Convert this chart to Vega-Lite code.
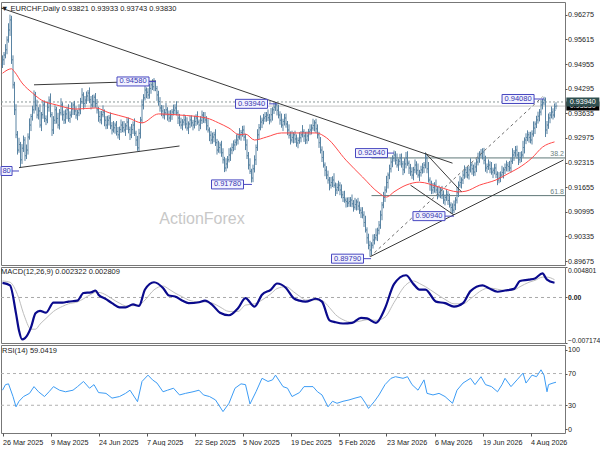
{
  "$schema": "https://vega.github.io/schema/vega-lite/v6.json",
  "background": "white",
  "padding": {"left": -3, "top": 1, "right": 0, "bottom": 0},
  "spacing": 2,
  "bounds": "flush",
  "datasets": {
    "bars": [
      {"i":0,"o":0.9495,"h":0.9519,"l":0.9485,"c":0.9507},
      {"i":1,"o":0.9507,"h":0.9528,"l":0.9493,"c":0.9520},
      {"i":2,"o":0.9520,"h":0.9549,"l":0.9511,"c":0.9534},
      {"i":3,"o":0.9534,"h":0.9570,"l":0.9522,"c":0.9560},
      {"i":4,"o":0.9560,"h":0.9605,"l":0.9553,"c":0.9587},
      {"i":5,"o":0.9587,"h":0.9628,"l":0.9571,"c":0.9614},
      {"i":6,"o":0.9614,"h":0.9625,"l":0.9496,"c":0.9507},
      {"i":7,"o":0.9507,"h":0.9519,"l":0.9430,"c":0.9440},
      {"i":8,"o":0.9440,"h":0.9448,"l":0.9359,"c":0.9373},
      {"i":9,"o":0.9373,"h":0.9388,"l":0.9297,"c":0.9306},
      {"i":10,"o":0.9306,"h":0.9316,"l":0.9253,"c":0.9265},
      {"i":11,"o":0.9265,"h":0.9298,"l":0.9258,"c":0.9280},
      {"i":12,"o":0.9280,"h":0.9287,"l":0.9218,"c":0.9239},
      {"i":13,"o":0.9239,"h":0.9281,"l":0.9228,"c":0.9270},
      {"i":14,"o":0.9270,"h":0.9304,"l":0.9260,"c":0.9292},
      {"i":15,"o":0.9292,"h":0.9300,"l":0.9236,"c":0.9250},
      {"i":16,"o":0.9250,"h":0.9280,"l":0.9241,"c":0.9265},
      {"i":17,"o":0.9265,"h":0.9310,"l":0.9253,"c":0.9300},
      {"i":18,"o":0.9300,"h":0.9350,"l":0.9293,"c":0.9332},
      {"i":19,"o":0.9332,"h":0.9362,"l":0.9316,"c":0.9355},
      {"i":20,"o":0.9355,"h":0.9384,"l":0.9344,"c":0.9373},
      {"i":21,"o":0.9373,"h":0.9425,"l":0.9363,"c":0.9413},
      {"i":22,"o":0.9413,"h":0.9421,"l":0.9371,"c":0.9385},
      {"i":23,"o":0.9385,"h":0.9400,"l":0.9350,"c":0.9359},
      {"i":24,"o":0.9359,"h":0.9380,"l":0.9347,"c":0.9370},
      {"i":25,"o":0.9370,"h":0.9388,"l":0.9325,"c":0.9332},
      {"i":26,"o":0.9332,"h":0.9367,"l":0.9316,"c":0.9360},
      {"i":27,"o":0.9360,"h":0.9397,"l":0.9349,"c":0.9386},
      {"i":28,"o":0.9386,"h":0.9398,"l":0.9340,"c":0.9350},
      {"i":29,"o":0.9350,"h":0.9358,"l":0.9332,"c":0.9346},
      {"i":30,"o":0.9346,"h":0.9395,"l":0.9337,"c":0.9380},
      {"i":31,"o":0.9380,"h":0.9409,"l":0.9368,"c":0.9399},
      {"i":32,"o":0.9399,"h":0.9417,"l":0.9353,"c":0.9360},
      {"i":33,"o":0.9360,"h":0.9367,"l":0.9303,"c":0.9319},
      {"i":34,"o":0.9319,"h":0.9356,"l":0.9308,"c":0.9345},
      {"i":35,"o":0.9345,"h":0.9385,"l":0.9335,"c":0.9373},
      {"i":36,"o":0.9373,"h":0.9381,"l":0.9336,"c":0.9350},
      {"i":37,"o":0.9350,"h":0.9365,"l":0.9323,"c":0.9332},
      {"i":38,"o":0.9332,"h":0.9375,"l":0.9320,"c":0.9365},
      {"i":39,"o":0.9365,"h":0.9404,"l":0.9358,"c":0.9386},
      {"i":40,"o":0.9386,"h":0.9393,"l":0.9344,"c":0.9360},
      {"i":41,"o":0.9360,"h":0.9371,"l":0.9335,"c":0.9346},
      {"i":42,"o":0.9346,"h":0.9374,"l":0.9336,"c":0.9362},
      {"i":43,"o":0.9362,"h":0.9381,"l":0.9348,"c":0.9373},
      {"i":44,"o":0.9373,"h":0.9388,"l":0.9341,"c":0.9350},
      {"i":45,"o":0.9350,"h":0.9369,"l":0.9338,"c":0.9359},
      {"i":46,"o":0.9359,"h":0.9393,"l":0.9352,"c":0.9375},
      {"i":47,"o":0.9375,"h":0.9393,"l":0.9359,"c":0.9386},
      {"i":48,"o":0.9386,"h":0.9397,"l":0.9359,"c":0.9370},
      {"i":49,"o":0.9370,"h":0.9382,"l":0.9349,"c":0.9359},
      {"i":50,"o":0.9359,"h":0.9373,"l":0.9345,"c":0.9365},
      {"i":51,"o":0.9365,"h":0.9388,"l":0.9356,"c":0.9373},
      {"i":52,"o":0.9373,"h":0.9405,"l":0.9361,"c":0.9395},
      {"i":53,"o":0.9395,"h":0.9431,"l":0.9388,"c":0.9413},
      {"i":54,"o":0.9413,"h":0.9420,"l":0.9374,"c":0.9390},
      {"i":55,"o":0.9390,"h":0.9410,"l":0.9379,"c":0.9399},
      {"i":56,"o":0.9399,"h":0.9422,"l":0.9389,"c":0.9410},
      {"i":57,"o":0.9410,"h":0.9426,"l":0.9396,"c":0.9418},
      {"i":58,"o":0.9418,"h":0.9433,"l":0.9391,"c":0.9400},
      {"i":59,"o":0.9400,"h":0.9410,"l":0.9374,"c":0.9386},
      {"i":60,"o":0.9386,"h":0.9413,"l":0.9379,"c":0.9395},
      {"i":61,"o":0.9395,"h":0.9414,"l":0.9379,"c":0.9407},
      {"i":62,"o":0.9407,"h":0.9418,"l":0.9379,"c":0.9390},
      {"i":63,"o":0.9390,"h":0.9402,"l":0.9363,"c":0.9373},
      {"i":64,"o":0.9373,"h":0.9381,"l":0.9341,"c":0.9355},
      {"i":65,"o":0.9355,"h":0.9370,"l":0.9337,"c":0.9346},
      {"i":66,"o":0.9346,"h":0.9370,"l":0.9334,"c":0.9360},
      {"i":67,"o":0.9360,"h":0.9385,"l":0.9353,"c":0.9367},
      {"i":68,"o":0.9367,"h":0.9374,"l":0.9329,"c":0.9345},
      {"i":69,"o":0.9345,"h":0.9356,"l":0.9321,"c":0.9332},
      {"i":70,"o":0.9332,"h":0.9357,"l":0.9322,"c":0.9345},
      {"i":71,"o":0.9345,"h":0.9359,"l":0.9331,"c":0.9351},
      {"i":72,"o":0.9351,"h":0.9366,"l":0.9321,"c":0.9330},
      {"i":73,"o":0.9330,"h":0.9340,"l":0.9307,"c":0.9319},
      {"i":74,"o":0.9319,"h":0.9343,"l":0.9312,"c":0.9325},
      {"i":75,"o":0.9325,"h":0.9339,"l":0.9309,"c":0.9332},
      {"i":76,"o":0.9332,"h":0.9343,"l":0.9304,"c":0.9315},
      {"i":77,"o":0.9315,"h":0.9327,"l":0.9296,"c":0.9306},
      {"i":78,"o":0.9306,"h":0.9328,"l":0.9292,"c":0.9320},
      {"i":79,"o":0.9320,"h":0.9347,"l":0.9311,"c":0.9332},
      {"i":80,"o":0.9332,"h":0.9342,"l":0.9313,"c":0.9325},
      {"i":81,"o":0.9325,"h":0.9343,"l":0.9312,"c":0.9319},
      {"i":82,"o":0.9319,"h":0.9337,"l":0.9303,"c":0.9330},
      {"i":83,"o":0.9330,"h":0.9351,"l":0.9319,"c":0.9340},
      {"i":84,"o":0.9340,"h":0.9352,"l":0.9310,"c":0.9320},
      {"i":85,"o":0.9320,"h":0.9328,"l":0.9292,"c":0.9306},
      {"i":86,"o":0.9306,"h":0.9335,"l":0.9297,"c":0.9320},
      {"i":87,"o":0.9320,"h":0.9342,"l":0.9308,"c":0.9332},
      {"i":88,"o":0.9332,"h":0.9350,"l":0.9303,"c":0.9310},
      {"i":89,"o":0.9310,"h":0.9317,"l":0.9276,"c":0.9292},
      {"i":90,"o":0.9292,"h":0.9303,"l":0.9263,"c":0.9271},
      {"i":91,"o":0.9271,"h":0.9322,"l":0.9261,"c":0.9310},
      {"i":92,"o":0.9310,"h":0.9354,"l":0.9296,"c":0.9346},
      {"i":93,"o":0.9346,"h":0.9401,"l":0.9337,"c":0.9386},
      {"i":94,"o":0.9386,"h":0.9415,"l":0.9374,"c":0.9405},
      {"i":95,"o":0.9405,"h":0.9444,"l":0.9398,"c":0.9426},
      {"i":96,"o":0.9426,"h":0.9433,"l":0.9404,"c":0.9420},
      {"i":97,"o":0.9420,"h":0.9431,"l":0.9402,"c":0.9413},
      {"i":98,"o":0.9413,"h":0.9442,"l":0.9403,"c":0.9430},
      {"i":99,"o":0.9430,"h":0.9448,"l":0.9416,"c":0.9440},
      {"i":100,"o":0.9440,"h":0.9455,"l":0.9426,"c":0.9435},
      {"i":101,"o":0.9435,"h":0.9458,"l":0.9423,"c":0.9448},
      {"i":102,"o":0.9448,"h":0.9452,"l":0.9423,"c":0.9430},
      {"i":103,"o":0.9430,"h":0.9437,"l":0.9397,"c":0.9413},
      {"i":104,"o":0.9413,"h":0.9424,"l":0.9384,"c":0.9395},
      {"i":105,"o":0.9395,"h":0.9407,"l":0.9368,"c":0.9378},
      {"i":106,"o":0.9378,"h":0.9386,"l":0.9356,"c":0.9370},
      {"i":107,"o":0.9370,"h":0.9385,"l":0.9350,"c":0.9359},
      {"i":108,"o":0.9359,"h":0.9375,"l":0.9347,"c":0.9365},
      {"i":109,"o":0.9365,"h":0.9391,"l":0.9358,"c":0.9373},
      {"i":110,"o":0.9373,"h":0.9380,"l":0.9344,"c":0.9360},
      {"i":111,"o":0.9360,"h":0.9371,"l":0.9340,"c":0.9351},
      {"i":112,"o":0.9351,"h":0.9372,"l":0.9341,"c":0.9360},
      {"i":113,"o":0.9360,"h":0.9375,"l":0.9346,"c":0.9367},
      {"i":114,"o":0.9367,"h":0.9387,"l":0.9358,"c":0.9372},
      {"i":115,"o":0.9372,"h":0.9388,"l":0.9360,"c":0.9378},
      {"i":116,"o":0.9378,"h":0.9396,"l":0.9358,"c":0.9365},
      {"i":117,"o":0.9365,"h":0.9372,"l":0.9335,"c":0.9351},
      {"i":118,"o":0.9351,"h":0.9362,"l":0.9329,"c":0.9340},
      {"i":119,"o":0.9340,"h":0.9352,"l":0.9322,"c":0.9332},
      {"i":120,"o":0.9332,"h":0.9348,"l":0.9318,"c":0.9340},
      {"i":121,"o":0.9340,"h":0.9361,"l":0.9331,"c":0.9346},
      {"i":122,"o":0.9346,"h":0.9356,"l":0.9323,"c":0.9335},
      {"i":123,"o":0.9335,"h":0.9353,"l":0.9317,"c":0.9324},
      {"i":124,"o":0.9324,"h":0.9342,"l":0.9308,"c":0.9335},
      {"i":125,"o":0.9335,"h":0.9357,"l":0.9324,"c":0.9346},
      {"i":126,"o":0.9346,"h":0.9358,"l":0.9328,"c":0.9338},
      {"i":127,"o":0.9338,"h":0.9346,"l":0.9318,"c":0.9332},
      {"i":128,"o":0.9332,"h":0.9357,"l":0.9323,"c":0.9342},
      {"i":129,"o":0.9342,"h":0.9361,"l":0.9330,"c":0.9351},
      {"i":130,"o":0.9351,"h":0.9369,"l":0.9333,"c":0.9340},
      {"i":131,"o":0.9340,"h":0.9347,"l":0.9316,"c":0.9332},
      {"i":132,"o":0.9332,"h":0.9356,"l":0.9321,"c":0.9345},
      {"i":133,"o":0.9345,"h":0.9371,"l":0.9335,"c":0.9359},
      {"i":134,"o":0.9359,"h":0.9367,"l":0.9338,"c":0.9352},
      {"i":135,"o":0.9352,"h":0.9367,"l":0.9337,"c":0.9346},
      {"i":136,"o":0.9346,"h":0.9356,"l":0.9318,"c":0.9330},
      {"i":137,"o":0.9330,"h":0.9348,"l":0.9312,"c":0.9319},
      {"i":138,"o":0.9319,"h":0.9326,"l":0.9289,"c":0.9305},
      {"i":139,"o":0.9305,"h":0.9316,"l":0.9281,"c":0.9292},
      {"i":140,"o":0.9292,"h":0.9312,"l":0.9282,"c":0.9300},
      {"i":141,"o":0.9300,"h":0.9314,"l":0.9286,"c":0.9306},
      {"i":142,"o":0.9306,"h":0.9321,"l":0.9276,"c":0.9285},
      {"i":143,"o":0.9285,"h":0.9295,"l":0.9253,"c":0.9265},
      {"i":144,"o":0.9265,"h":0.9290,"l":0.9258,"c":0.9272},
      {"i":145,"o":0.9272,"h":0.9286,"l":0.9256,"c":0.9279},
      {"i":146,"o":0.9279,"h":0.9290,"l":0.9247,"c":0.9258},
      {"i":147,"o":0.9258,"h":0.9270,"l":0.9229,"c":0.9239},
      {"i":148,"o":0.9239,"h":0.9247,"l":0.9206,"c":0.9217},
      {"i":149,"o":0.9217,"h":0.9243,"l":0.9208,"c":0.9228},
      {"i":150,"o":0.9228,"h":0.9249,"l":0.9216,"c":0.9239},
      {"i":151,"o":0.9239,"h":0.9270,"l":0.9232,"c":0.9252},
      {"i":152,"o":0.9252,"h":0.9272,"l":0.9236,"c":0.9265},
      {"i":153,"o":0.9265,"h":0.9283,"l":0.9254,"c":0.9272},
      {"i":154,"o":0.9272,"h":0.9291,"l":0.9262,"c":0.9279},
      {"i":155,"o":0.9279,"h":0.9294,"l":0.9265,"c":0.9286},
      {"i":156,"o":0.9286,"h":0.9307,"l":0.9277,"c":0.9292},
      {"i":157,"o":0.9292,"h":0.9310,"l":0.9280,"c":0.9300},
      {"i":158,"o":0.9300,"h":0.9324,"l":0.9293,"c":0.9306},
      {"i":159,"o":0.9306,"h":0.9319,"l":0.9290,"c":0.9312},
      {"i":160,"o":0.9312,"h":0.9330,"l":0.9301,"c":0.9319},
      {"i":161,"o":0.9319,"h":0.9331,"l":0.9290,"c":0.9300},
      {"i":162,"o":0.9300,"h":0.9308,"l":0.9265,"c":0.9279},
      {"i":163,"o":0.9279,"h":0.9294,"l":0.9241,"c":0.9250},
      {"i":164,"o":0.9250,"h":0.9260,"l":0.9213,"c":0.9225},
      {"i":165,"o":0.9225,"h":0.9243,"l":0.9201,"c":0.9208},
      {"i":166,"o":0.9208,"h":0.9215,"l":0.9178,"c":0.9190},
      {"i":167,"o":0.9190,"h":0.9226,"l":0.9179,"c":0.9215},
      {"i":168,"o":0.9215,"h":0.9251,"l":0.9205,"c":0.9239},
      {"i":169,"o":0.9239,"h":0.9280,"l":0.9225,"c":0.9272},
      {"i":170,"o":0.9272,"h":0.9321,"l":0.9263,"c":0.9306},
      {"i":171,"o":0.9306,"h":0.9335,"l":0.9294,"c":0.9325},
      {"i":172,"o":0.9325,"h":0.9358,"l":0.9318,"c":0.9340},
      {"i":173,"o":0.9340,"h":0.9352,"l":0.9324,"c":0.9345},
      {"i":174,"o":0.9345,"h":0.9362,"l":0.9334,"c":0.9351},
      {"i":175,"o":0.9351,"h":0.9367,"l":0.9341,"c":0.9355},
      {"i":176,"o":0.9355,"h":0.9367,"l":0.9341,"c":0.9359},
      {"i":177,"o":0.9359,"h":0.9374,"l":0.9343,"c":0.9352},
      {"i":178,"o":0.9352,"h":0.9362,"l":0.9334,"c":0.9346},
      {"i":179,"o":0.9346,"h":0.9378,"l":0.9339,"c":0.9360},
      {"i":180,"o":0.9360,"h":0.9380,"l":0.9344,"c":0.9373},
      {"i":181,"o":0.9373,"h":0.9391,"l":0.9362,"c":0.9380},
      {"i":182,"o":0.9380,"h":0.9394,"l":0.9370,"c":0.9386},
      {"i":183,"o":0.9386,"h":0.9392,"l":0.9358,"c":0.9372},
      {"i":184,"o":0.9372,"h":0.9387,"l":0.9350,"c":0.9359},
      {"i":185,"o":0.9359,"h":0.9369,"l":0.9333,"c":0.9345},
      {"i":186,"o":0.9345,"h":0.9363,"l":0.9325,"c":0.9332},
      {"i":187,"o":0.9332,"h":0.9349,"l":0.9316,"c":0.9342},
      {"i":188,"o":0.9342,"h":0.9362,"l":0.9331,"c":0.9351},
      {"i":189,"o":0.9351,"h":0.9363,"l":0.9325,"c":0.9335},
      {"i":190,"o":0.9335,"h":0.9343,"l":0.9305,"c":0.9319},
      {"i":191,"o":0.9319,"h":0.9334,"l":0.9296,"c":0.9305},
      {"i":192,"o":0.9305,"h":0.9315,"l":0.9280,"c":0.9292},
      {"i":193,"o":0.9292,"h":0.9317,"l":0.9285,"c":0.9299},
      {"i":194,"o":0.9299,"h":0.9313,"l":0.9283,"c":0.9306},
      {"i":195,"o":0.9306,"h":0.9317,"l":0.9284,"c":0.9295},
      {"i":196,"o":0.9295,"h":0.9307,"l":0.9274,"c":0.9284},
      {"i":197,"o":0.9284,"h":0.9299,"l":0.9270,"c":0.9291},
      {"i":198,"o":0.9291,"h":0.9313,"l":0.9282,"c":0.9298},
      {"i":199,"o":0.9298,"h":0.9316,"l":0.9286,"c":0.9306},
      {"i":200,"o":0.9306,"h":0.9332,"l":0.9299,"c":0.9314},
      {"i":201,"o":0.9314,"h":0.9321,"l":0.9287,"c":0.9303},
      {"i":202,"o":0.9303,"h":0.9314,"l":0.9281,"c":0.9292},
      {"i":203,"o":0.9292,"h":0.9315,"l":0.9282,"c":0.9303},
      {"i":204,"o":0.9303,"h":0.9322,"l":0.9289,"c":0.9314},
      {"i":205,"o":0.9314,"h":0.9334,"l":0.9305,"c":0.9319},
      {"i":206,"o":0.9319,"h":0.9334,"l":0.9307,"c":0.9324},
      {"i":207,"o":0.9324,"h":0.9349,"l":0.9317,"c":0.9331},
      {"i":208,"o":0.9331,"h":0.9345,"l":0.9315,"c":0.9338},
      {"i":209,"o":0.9338,"h":0.9349,"l":0.9311,"c":0.9322},
      {"i":210,"o":0.9322,"h":0.9334,"l":0.9296,"c":0.9306},
      {"i":211,"o":0.9306,"h":0.9314,"l":0.9271,"c":0.9285},
      {"i":212,"o":0.9285,"h":0.9300,"l":0.9256,"c":0.9265},
      {"i":213,"o":0.9265,"h":0.9275,"l":0.9233,"c":0.9245},
      {"i":214,"o":0.9245,"h":0.9263,"l":0.9218,"c":0.9225},
      {"i":215,"o":0.9225,"h":0.9232,"l":0.9195,"c":0.9211},
      {"i":216,"o":0.9211,"h":0.9222,"l":0.9187,"c":0.9198},
      {"i":217,"o":0.9198,"h":0.9210,"l":0.9175,"c":0.9185},
      {"i":218,"o":0.9185,"h":0.9193,"l":0.9157,"c":0.9171},
      {"i":219,"o":0.9171,"h":0.9193,"l":0.9162,"c":0.9178},
      {"i":220,"o":0.9178,"h":0.9195,"l":0.9166,"c":0.9185},
      {"i":221,"o":0.9185,"h":0.9203,"l":0.9164,"c":0.9171},
      {"i":222,"o":0.9171,"h":0.9178,"l":0.9142,"c":0.9158},
      {"i":223,"o":0.9158,"h":0.9176,"l":0.9147,"c":0.9165},
      {"i":224,"o":0.9165,"h":0.9183,"l":0.9155,"c":0.9171},
      {"i":225,"o":0.9171,"h":0.9179,"l":0.9144,"c":0.9158},
      {"i":226,"o":0.9158,"h":0.9173,"l":0.9136,"c":0.9145},
      {"i":227,"o":0.9145,"h":0.9155,"l":0.9126,"c":0.9138},
      {"i":228,"o":0.9138,"h":0.9156,"l":0.9124,"c":0.9131},
      {"i":229,"o":0.9131,"h":0.9138,"l":0.9111,"c":0.9127},
      {"i":230,"o":0.9127,"h":0.9138,"l":0.9112,"c":0.9123},
      {"i":231,"o":0.9123,"h":0.9139,"l":0.9113,"c":0.9127},
      {"i":232,"o":0.9127,"h":0.9139,"l":0.9113,"c":0.9131},
      {"i":233,"o":0.9131,"h":0.9146,"l":0.9112,"c":0.9121},
      {"i":234,"o":0.9121,"h":0.9131,"l":0.9100,"c":0.9112},
      {"i":235,"o":0.9112,"h":0.9137,"l":0.9105,"c":0.9119},
      {"i":236,"o":0.9119,"h":0.9133,"l":0.9103,"c":0.9126},
      {"i":237,"o":0.9126,"h":0.9137,"l":0.9104,"c":0.9115},
      {"i":238,"o":0.9115,"h":0.9127,"l":0.9094,"c":0.9104},
      {"i":239,"o":0.9104,"h":0.9112,"l":0.9083,"c":0.9097},
      {"i":240,"o":0.9097,"h":0.9112,"l":0.9082,"c":0.9091},
      {"i":241,"o":0.9091,"h":0.9101,"l":0.9059,"c":0.9071},
      {"i":242,"o":0.9071,"h":0.9089,"l":0.9044,"c":0.9051},
      {"i":243,"o":0.9051,"h":0.9058,"l":0.9014,"c":0.9030},
      {"i":244,"o":0.9030,"h":0.9041,"l":0.8999,"c":0.9010},
      {"i":245,"o":0.9010,"h":0.9022,"l":0.8979,"c":0.8997},
      {"i":246,"o":0.8997,"h":0.9018,"l":0.8983,"c":0.9010},
      {"i":247,"o":0.9010,"h":0.9039,"l":0.9001,"c":0.9024},
      {"i":248,"o":0.9024,"h":0.9040,"l":0.9012,"c":0.9030},
      {"i":249,"o":0.9030,"h":0.9055,"l":0.9023,"c":0.9037},
      {"i":250,"o":0.9037,"h":0.9057,"l":0.9021,"c":0.9050},
      {"i":251,"o":0.9050,"h":0.9075,"l":0.9039,"c":0.9064},
      {"i":252,"o":0.9064,"h":0.9103,"l":0.9054,"c":0.9091},
      {"i":253,"o":0.9091,"h":0.9126,"l":0.9077,"c":0.9118},
      {"i":254,"o":0.9118,"h":0.9153,"l":0.9109,"c":0.9138},
      {"i":255,"o":0.9138,"h":0.9168,"l":0.9126,"c":0.9158},
      {"i":256,"o":0.9158,"h":0.9196,"l":0.9151,"c":0.9178},
      {"i":257,"o":0.9178,"h":0.9205,"l":0.9162,"c":0.9198},
      {"i":258,"o":0.9198,"h":0.9226,"l":0.9187,"c":0.9215},
      {"i":259,"o":0.9215,"h":0.9245,"l":0.9205,"c":0.9233},
      {"i":260,"o":0.9233,"h":0.9251,"l":0.9219,"c":0.9243},
      {"i":261,"o":0.9243,"h":0.9264,"l":0.9234,"c":0.9252},
      {"i":262,"o":0.9252,"h":0.9262,"l":0.9226,"c":0.9238},
      {"i":263,"o":0.9238,"h":0.9256,"l":0.9218,"c":0.9225},
      {"i":264,"o":0.9225,"h":0.9242,"l":0.9209,"c":0.9235},
      {"i":265,"o":0.9235,"h":0.9255,"l":0.9224,"c":0.9244},
      {"i":266,"o":0.9244,"h":0.9256,"l":0.9218,"c":0.9228},
      {"i":267,"o":0.9228,"h":0.9236,"l":0.9198,"c":0.9212},
      {"i":268,"o":0.9212,"h":0.9243,"l":0.9203,"c":0.9228},
      {"i":269,"o":0.9228,"h":0.9260,"l":0.9216,"c":0.9244},
      {"i":270,"o":0.9244,"h":0.9262,"l":0.9223,"c":0.9230},
      {"i":271,"o":0.9230,"h":0.9237,"l":0.9201,"c":0.9217},
      {"i":272,"o":0.9217,"h":0.9228,"l":0.9196,"c":0.9207},
      {"i":273,"o":0.9207,"h":0.9219,"l":0.9188,"c":0.9198},
      {"i":274,"o":0.9198,"h":0.9220,"l":0.9184,"c":0.9212},
      {"i":275,"o":0.9212,"h":0.9240,"l":0.9203,"c":0.9225},
      {"i":276,"o":0.9225,"h":0.9235,"l":0.9199,"c":0.9211},
      {"i":277,"o":0.9211,"h":0.9229,"l":0.9191,"c":0.9198},
      {"i":278,"o":0.9198,"h":0.9212,"l":0.9182,"c":0.9205},
      {"i":279,"o":0.9205,"h":0.9223,"l":0.9194,"c":0.9212},
      {"i":280,"o":0.9212,"h":0.9230,"l":0.9202,"c":0.9218},
      {"i":281,"o":0.9218,"h":0.9233,"l":0.9204,"c":0.9225},
      {"i":282,"o":0.9225,"h":0.9259,"l":0.9216,"c":0.9244},
      {"i":283,"o":0.9244,"h":0.9254,"l":0.9203,"c":0.9215},
      {"i":284,"o":0.9215,"h":0.9233,"l":0.9178,"c":0.9185},
      {"i":285,"o":0.9185,"h":0.9192,"l":0.9156,"c":0.9172},
      {"i":286,"o":0.9172,"h":0.9183,"l":0.9147,"c":0.9158},
      {"i":287,"o":0.9158,"h":0.9177,"l":0.9148,"c":0.9165},
      {"i":288,"o":0.9165,"h":0.9179,"l":0.9151,"c":0.9171},
      {"i":289,"o":0.9171,"h":0.9186,"l":0.9149,"c":0.9158},
      {"i":290,"o":0.9158,"h":0.9168,"l":0.9133,"c":0.9145},
      {"i":291,"o":0.9145,"h":0.9170,"l":0.9138,"c":0.9152},
      {"i":292,"o":0.9152,"h":0.9165,"l":0.9136,"c":0.9158},
      {"i":293,"o":0.9158,"h":0.9169,"l":0.9134,"c":0.9145},
      {"i":294,"o":0.9145,"h":0.9157,"l":0.9121,"c":0.9131},
      {"i":295,"o":0.9131,"h":0.9146,"l":0.9117,"c":0.9138},
      {"i":296,"o":0.9138,"h":0.9160,"l":0.9129,"c":0.9145},
      {"i":297,"o":0.9145,"h":0.9155,"l":0.9118,"c":0.9130},
      {"i":298,"o":0.9130,"h":0.9148,"l":0.9111,"c":0.9118},
      {"i":299,"o":0.9118,"h":0.9125,"l":0.9095,"c":0.9111},
      {"i":300,"o":0.9111,"h":0.9122,"l":0.9094,"c":0.9104},
      {"i":301,"o":0.9104,"h":0.9130,"l":0.9096,"c":0.9118},
      {"i":302,"o":0.9118,"h":0.9139,"l":0.9104,"c":0.9131},
      {"i":303,"o":0.9131,"h":0.9166,"l":0.9122,"c":0.9151},
      {"i":304,"o":0.9151,"h":0.9181,"l":0.9139,"c":0.9171},
      {"i":305,"o":0.9171,"h":0.9196,"l":0.9164,"c":0.9178},
      {"i":306,"o":0.9178,"h":0.9192,"l":0.9162,"c":0.9185},
      {"i":307,"o":0.9185,"h":0.9209,"l":0.9174,"c":0.9198},
      {"i":308,"o":0.9198,"h":0.9224,"l":0.9188,"c":0.9212},
      {"i":309,"o":0.9212,"h":0.9220,"l":0.9191,"c":0.9205},
      {"i":310,"o":0.9205,"h":0.9220,"l":0.9189,"c":0.9198},
      {"i":311,"o":0.9198,"h":0.9222,"l":0.9186,"c":0.9212},
      {"i":312,"o":0.9212,"h":0.9243,"l":0.9205,"c":0.9225},
      {"i":313,"o":0.9225,"h":0.9232,"l":0.9199,"c":0.9215},
      {"i":314,"o":0.9215,"h":0.9226,"l":0.9195,"c":0.9206},
      {"i":315,"o":0.9206,"h":0.9232,"l":0.9196,"c":0.9220},
      {"i":316,"o":0.9220,"h":0.9241,"l":0.9206,"c":0.9233},
      {"i":317,"o":0.9233,"h":0.9258,"l":0.9224,"c":0.9243},
      {"i":318,"o":0.9243,"h":0.9262,"l":0.9231,"c":0.9252},
      {"i":319,"o":0.9252,"h":0.9268,"l":0.9245,"c":0.9256},
      {"i":320,"o":0.9256,"h":0.9270,"l":0.9240,"c":0.9260},
      {"i":321,"o":0.9260,"h":0.9271,"l":0.9227,"c":0.9238},
      {"i":322,"o":0.9238,"h":0.9250,"l":0.9207,"c":0.9217},
      {"i":323,"o":0.9217,"h":0.9229,"l":0.9203,"c":0.9221},
      {"i":324,"o":0.9221,"h":0.9240,"l":0.9212,"c":0.9225},
      {"i":325,"o":0.9225,"h":0.9235,"l":0.9203,"c":0.9215},
      {"i":326,"o":0.9215,"h":0.9233,"l":0.9199,"c":0.9206},
      {"i":327,"o":0.9206,"h":0.9218,"l":0.9190,"c":0.9211},
      {"i":328,"o":0.9211,"h":0.9228,"l":0.9200,"c":0.9217},
      {"i":329,"o":0.9217,"h":0.9229,"l":0.9190,"c":0.9200},
      {"i":330,"o":0.9200,"h":0.9208,"l":0.9171,"c":0.9185},
      {"i":331,"o":0.9185,"h":0.9206,"l":0.9176,"c":0.9191},
      {"i":332,"o":0.9191,"h":0.9208,"l":0.9179,"c":0.9198},
      {"i":333,"o":0.9198,"h":0.9223,"l":0.9191,"c":0.9205},
      {"i":334,"o":0.9205,"h":0.9219,"l":0.9189,"c":0.9212},
      {"i":335,"o":0.9212,"h":0.9229,"l":0.9201,"c":0.9218},
      {"i":336,"o":0.9218,"h":0.9237,"l":0.9208,"c":0.9225},
      {"i":337,"o":0.9225,"h":0.9233,"l":0.9207,"c":0.9221},
      {"i":338,"o":0.9221,"h":0.9236,"l":0.9208,"c":0.9217},
      {"i":339,"o":0.9217,"h":0.9245,"l":0.9205,"c":0.9235},
      {"i":340,"o":0.9235,"h":0.9270,"l":0.9228,"c":0.9252},
      {"i":341,"o":0.9252,"h":0.9265,"l":0.9236,"c":0.9258},
      {"i":342,"o":0.9258,"h":0.9276,"l":0.9247,"c":0.9265},
      {"i":343,"o":0.9265,"h":0.9277,"l":0.9242,"c":0.9252},
      {"i":344,"o":0.9252,"h":0.9260,"l":0.9225,"c":0.9239},
      {"i":345,"o":0.9239,"h":0.9260,"l":0.9230,"c":0.9245},
      {"i":346,"o":0.9245,"h":0.9262,"l":0.9233,"c":0.9252},
      {"i":347,"o":0.9252,"h":0.9290,"l":0.9245,"c":0.9272},
      {"i":348,"o":0.9272,"h":0.9299,"l":0.9256,"c":0.9292},
      {"i":349,"o":0.9292,"h":0.9310,"l":0.9281,"c":0.9299},
      {"i":350,"o":0.9299,"h":0.9318,"l":0.9289,"c":0.9306},
      {"i":351,"o":0.9306,"h":0.9314,"l":0.9285,"c":0.9299},
      {"i":352,"o":0.9299,"h":0.9314,"l":0.9283,"c":0.9292},
      {"i":353,"o":0.9292,"h":0.9318,"l":0.9280,"c":0.9308},
      {"i":354,"o":0.9308,"h":0.9342,"l":0.9301,"c":0.9324},
      {"i":355,"o":0.9324,"h":0.9342,"l":0.9308,"c":0.9335},
      {"i":356,"o":0.9335,"h":0.9357,"l":0.9324,"c":0.9346},
      {"i":357,"o":0.9346,"h":0.9368,"l":0.9336,"c":0.9356},
      {"i":358,"o":0.9356,"h":0.9375,"l":0.9342,"c":0.9367},
      {"i":359,"o":0.9367,"h":0.9401,"l":0.9358,"c":0.9386},
      {"i":360,"o":0.9386,"h":0.9402,"l":0.9374,"c":0.9392},
      {"i":361,"o":0.9392,"h":0.9408,"l":0.9385,"c":0.9399},
      {"i":362,"o":0.9399,"h":0.9406,"l":0.9300,"c":0.9319},
      {"i":363,"o":0.9319,"h":0.9343,"l":0.9308,"c":0.9332},
      {"i":364,"o":0.9332,"h":0.9363,"l":0.9322,"c":0.9351},
      {"i":365,"o":0.9351,"h":0.9367,"l":0.9337,"c":0.9359},
      {"i":366,"o":0.9359,"h":0.9382,"l":0.9350,"c":0.9367},
      {"i":367,"o":0.9367,"h":0.9377,"l":0.9347,"c":0.9359},
      {"i":368,"o":0.9359,"h":0.9390,"l":0.9352,"c":0.9372},
      {"i":369,"o":0.93821,"h":0.93933,"l":0.93743,"c":0.9383}
    ],
    "ma": [
      {"i":0,"p":0.9471},{"i":6,"p":0.9483},{"i":8,"p":0.9475},{"i":13,"p":0.9445},{"i":20,"p":0.9418},
      {"i":26,"p":0.9399},{"i":36,"p":0.9386},{"i":49,"p":0.9375},{"i":62,"p":0.9378},{"i":71,"p":0.9365},
      {"i":84,"p":0.9351},{"i":93,"p":0.9338},{"i":104,"p":0.9362},{"i":118,"p":0.9359},{"i":136,"p":0.9351},
      {"i":144,"p":0.9338},{"i":151,"p":0.9324},{"i":158,"p":0.9306},{"i":162,"p":0.9308},{"i":168,"p":0.9292},
      {"i":176,"p":0.9300},{"i":186,"p":0.9311},{"i":198,"p":0.9311},{"i":209,"p":0.9311},{"i":216,"p":0.9298},
      {"i":229,"p":0.9238},{"i":240,"p":0.9193},{"i":251,"p":0.9150},{"i":256,"p":0.9139},{"i":261,"p":0.9153},
      {"i":269,"p":0.9171},{"i":278,"p":0.9179},{"i":291,"p":0.9166},{"i":304,"p":0.9153},{"i":309,"p":0.9155},
      {"i":318,"p":0.9171},{"i":329,"p":0.9185},{"i":338,"p":0.9204},{"i":344,"p":0.9217},{"i":353,"p":0.9244},
      {"i":360,"p":0.9273},{"i":368,"p":0.9287}
    ],
    "trend": [
      {"id":"t1","i":-1,"p":0.9646},{"id":"t1","i":300,"p":0.9230},
      {"id":"t2","i":21,"p":0.9440},{"id":"t2","i":102,"p":0.9450},
      {"id":"t3","i":11,"p":0.9218},{"id":"t3","i":118,"p":0.9276},
      {"id":"t4","i":245,"p":0.8979},{"id":"t4","i":374,"p":0.92385},
      {"id":"t5","i":282,"p":0.9257},{"id":"t5","i":306,"p":0.9153},
      {"id":"t6","i":272,"p":0.9171},{"id":"t6","i":301,"p":0.9091}
    ],
    "dashed": [
      {"i":245,"p":0.8979},{"i":360,"p":0.9408}
    ],
    "fibo": [
      {"id":"38.2","i":246,"p":0.9244},{"id":"38.2","i":375,"p":0.9244},
      {"id":"61.8","i":246,"p":0.9143},{"id":"61.8","i":375,"p":0.9143}
    ],
    "fibotext": [
      {"i":374.3,"p":0.9244,"t":"38.2"},
      {"i":374.3,"p":0.9143,"t":"61.8"}
    ],
    "conn": [
      {"id":"a","i":97.7,"p":0.9449},{"id":"a","i":102.3,"p":0.9449},
      {"id":"b","i":177.7,"p":0.9389},{"id":"b","i":183,"p":0.9389},
      {"id":"c","i":161,"p":0.9173},{"id":"c","i":166.3,"p":0.9173},
      {"id":"d","i":6.3,"p":0.9209},{"id":"d","i":11,"p":0.9209},
      {"id":"e","i":256.3,"p":0.9257},{"id":"e","i":261,"p":0.9257},
      {"id":"f","i":295,"p":0.9088},{"id":"f","i":301,"p":0.9088},
      {"id":"g","i":241,"p":0.8974},{"id":"g","i":245.7,"p":0.8974},
      {"id":"h","i":354.3,"p":0.9402},{"id":"h","i":361,"p":0.9402}
    ],
    "labels": [
      {"i":87,"p":0.9449,"t":"0.94580"},
      {"i":166,"p":0.9389,"t":"0.93940"},
      {"i":150,"p":0.9173,"t":"0.91780"},
      {"i":246,"p":0.9257,"t":"0.92640"},
      {"i":284.3,"p":0.9088,"t":"0.90940"},
      {"i":230,"p":0.8974,"t":"0.89790"},
      {"i":343.7,"p":0.9402,"t":"0.94080"}
    ],
    "macd": [
      {"i":0,"m":0.0023,"s":0.0026},{"i":5,"m":0.0019,"s":0.0024},{"i":9,"m":-0.0025,"s":0.0010},
      {"i":11,"m":-0.0052,"s":-0.0002},{"i":13,"m":-0.0066,"s":-0.0018},{"i":15,"m":-0.0064,"s":-0.0032},
      {"i":19,"m":-0.0047,"s":-0.0050},{"i":22,"m":-0.0025,"s":-0.0050},{"i":25,"m":-0.0021,"s":-0.0042},
      {"i":29,"m":-0.0024,"s":-0.0033},{"i":34,"m":-0.0008,"s":-0.0022},{"i":40,"m":-0.0008,"s":-0.0014},
      {"i":44,"m":-0.00065,"s":-0.0010},{"i":50,"m":-0.0005,"s":-0.0007},{"i":54,"m":0.0007,"s":-0.0002},
      {"i":59,"m":0.0008,"s":0.0005},{"i":62,"m":0.0011,"s":0.0008},{"i":64,"m":0.00044,"s":0.0008},
      {"i":69,"m":-0.00026,"s":0.0004},{"i":73,"m":-0.0009,"s":-0.0002},{"i":78,"m":-0.00155,"s":-0.0009},
      {"i":82,"m":-0.00155,"s":-0.0013},{"i":87,"m":-0.0011,"s":-0.0013},{"i":91,"m":-0.00134,"s":-0.0012},
      {"i":95,"m":0.00125,"s":-0.0004},{"i":101,"m":0.0024,"s":0.0012},{"i":107,"m":0.0015,"s":0.0018},
      {"i":111,"m":0.0003,"s":0.0013},{"i":115,"m":0.00016,"s":0.0007},{"i":120,"m":-0.0005,"s":0.0001},
      {"i":124,"m":-0.0009,"s":-0.0004},{"i":131,"m":-0.00075,"s":-0.0007},{"i":135,"m":-0.0005,"s":-0.0007},
      {"i":140,"m":-0.0012,"s":-0.0009},{"i":145,"m":-0.0024,"s":-0.0015},{"i":151,"m":-0.0028,"s":-0.0022},
      {"i":157,"m":-0.0017,"s":-0.0022},{"i":162,"m":-0.0001,"s":-0.0012},{"i":168,"m":-0.00145,"s":-0.0010},
      {"i":173,"m":0.00044,"s":-0.0004},{"i":179,"m":0.00125,"s":0.0006},{"i":183,"m":0.0022,"s":0.0014},
      {"i":189,"m":0.0015,"s":0.0017},{"i":194,"m":-0.0001,"s":0.0009},{"i":198,"m":-0.0005,"s":0.0002},
      {"i":202,"m":-0.00065,"s":-0.0004},{"i":209,"m":-0.0002,"s":-0.0004},{"i":213,"m":-0.00065,"s":-0.0005},
      {"i":218,"m":-0.0036,"s":-0.0016},{"i":222,"m":-0.0039,"s":-0.0027},{"i":227,"m":-0.0041,"s":-0.0035},
      {"i":233,"m":-0.0040,"s":-0.0039},{"i":239,"m":-0.0032,"s":-0.0037},{"i":243,"m":-0.0033,"s":-0.0035},
      {"i":249,"m":-0.0040,"s":-0.0036},{"i":255,"m":-0.0017,"s":-0.0031},{"i":261,"m":0.0021,"s":-0.0008},
      {"i":269,"m":0.0035,"s":0.0020},{"i":274,"m":0.0021,"s":0.0026},{"i":278,"m":0.00125,"s":0.0022},
      {"i":282,"m":0.00125,"s":0.0017},{"i":289,"m":-0.00065,"s":0.0006},{"i":295,"m":-0.0009,"s":-0.0003},
      {"i":301,"m":-0.00145,"s":-0.0010},{"i":307,"m":-0.0009,"s":-0.0010},{"i":312,"m":0.0010,"s":-0.0002},
      {"i":320,"m":0.0019,"s":0.0012},{"i":324,"m":0.0015,"s":0.0015},{"i":330,"m":0.0009,"s":0.0013},
      {"i":335,"m":0.0011,"s":0.0011},{"i":341,"m":0.00135,"s":0.0012},{"i":345,"m":0.0026,"s":0.0017},
      {"i":351,"m":0.0028,"s":0.0024},{"i":355,"m":0.0030,"s":0.0027},{"i":360,"m":0.0038,"s":0.0032},
      {"i":363,"m":0.0028,"s":0.0032},{"i":368,"m":0.00232,"s":0.00281}
    ],
    "rsi": [
      {"i":0,"r":49},{"i":2,"r":56},{"i":4,"r":57},{"i":7,"r":41},{"i":9,"r":28},{"i":11,"r":35},
      {"i":14,"r":41},{"i":18,"r":45},{"i":21,"r":53.5},{"i":24,"r":47},{"i":28,"r":41},{"i":31,"r":47},
      {"i":34,"r":53.5},{"i":38,"r":49},{"i":42,"r":47},{"i":47,"r":49},{"i":50,"r":53.5},{"i":54,"r":60},
      {"i":58,"r":51.5},{"i":61,"r":56},{"i":64,"r":46},{"i":69,"r":45},{"i":73,"r":39},{"i":78,"r":41},
      {"i":82,"r":45},{"i":85,"r":49},{"i":90,"r":34.5},{"i":93,"r":60},{"i":97,"r":68},{"i":100,"r":62},
      {"i":103,"r":58},{"i":107,"r":47},{"i":110,"r":49},{"i":114,"r":51.5},{"i":118,"r":43},{"i":122,"r":45},
      {"i":127,"r":47},{"i":131,"r":49},{"i":134,"r":43},{"i":138,"r":41},{"i":142,"r":36.7},{"i":147,"r":22},
      {"i":151,"r":32.5},{"i":155,"r":51.5},{"i":159,"r":57},{"i":162,"r":56},{"i":165,"r":31.6},{"i":169,"r":47},
      {"i":173,"r":64},{"i":177,"r":60},{"i":180,"r":62},{"i":182,"r":68},{"i":187,"r":53.5},{"i":190,"r":51.5},
      {"i":193,"r":41},{"i":198,"r":46},{"i":201,"r":53.5},{"i":207,"r":53.5},{"i":210,"r":47},{"i":213,"r":43},
      {"i":217,"r":28},{"i":220,"r":35},{"i":223,"r":32.5},{"i":227,"r":35},{"i":231,"r":36.7},{"i":235,"r":39},
      {"i":239,"r":41},{"i":242,"r":32.5},{"i":244,"r":26},{"i":248,"r":35},{"i":251,"r":43},{"i":255,"r":56},
      {"i":259,"r":64},{"i":262,"r":66},{"i":267,"r":64},{"i":270,"r":66},{"i":273,"r":56},{"i":277,"r":49},
      {"i":281,"r":62},{"i":283,"r":45},{"i":287,"r":43},{"i":291,"r":45},{"i":295,"r":41},{"i":300,"r":32.5},
      {"i":303,"r":49},{"i":307,"r":58},{"i":312,"r":64},{"i":315,"r":56},{"i":319,"r":66},{"i":322,"r":56},
      {"i":326,"r":53.5},{"i":330,"r":47},{"i":333,"r":56},{"i":335,"r":64},{"i":339,"r":53.5},{"i":343,"r":62},
      {"i":347,"r":70.5},{"i":349,"r":58},{"i":353,"r":68},{"i":356,"r":66},{"i":359,"r":74.7},{"i":361,"r":68},
      {"i":363,"r":47},{"i":364,"r":56},{"i":367,"r":58},{"i":369,"r":59.04}
    ]
  },
  "vconcat": [
    {
      "width": 564,
      "height": 263,
      "title": {"text": "▼ EURCHF,Daily  0.93821 0.93933 0.93743 0.93830", "anchor": "start", "orient": "top", "offset": -10, "dx": 2, "fontSize": 7.5, "fontWeight": "normal", "color": "#222222", "font": "Liberation Sans"},
      "encoding": {
        "x": {"field": "i", "type": "quantitative", "scale": {"domain": [-1, 375], "nice": false, "zero": false}, "axis": null},
        "y": {"field": "p", "type": "quantitative", "scale": {"domain": [0.8957, 0.9662], "nice": false, "zero": false}, "title": null,
          "axis": {"orient": "right", "values": [0.96275, 0.95615, 0.94955, 0.94295, 0.93635, 0.92975, 0.92315, 0.91655, 0.90995, 0.90335, 0.89675], "format": ".5f"}}
      },
      "layer": [
        {
          "data": {"values": [{"i": 133, "p": 0.9081, "t": "ActionForex"}]},
          "mark": {"type": "text", "fontSize": 16, "color": "#c8c8c8", "font": "Liberation Sans", "align": "center", "baseline": "middle"},
          "encoding": {"text": {"field": "t"}}
        },
        {
          "data": {"values": [{"i": -1, "p": 0.9383}, {"i": 375, "p": 0.9383}]},
          "mark": {"type": "line", "color": "#c4c4c4", "strokeWidth": 1}
        },
        {
          "data": {"values": [{"i": -1, "p": 0.9394}, {"i": 375, "p": 0.9394}]},
          "mark": {"type": "line", "color": "#8a9898", "strokeWidth": 1, "strokeDash": [2, 2]}
        },
        {
          "data": {"name": "fibo"},
          "mark": {"type": "line", "color": "#607878", "strokeWidth": 1},
          "encoding": {"detail": {"field": "id"}}
        },
        {
          "data": {"name": "bars"},
          "mark": {"type": "rule", "color": "#5a84a3", "strokeWidth": 1},
          "encoding": {
            "y": {"field": "l", "type": "quantitative", "scale": {"domain": [0.8957, 0.9662], "nice": false, "zero": false}, "title": null,
              "axis": {"orient": "right", "values": [0.96275, 0.95615, 0.94955, 0.94295, 0.93635, 0.92975, 0.92315, 0.91655, 0.90995, 0.90335, 0.89675], "format": ".5f"}},
            "y2": {"field": "h"}
          }
        },
        {
          "data": {"name": "bars"},
          "mark": {"type": "tick", "orient": "horizontal", "color": "#5a84a3", "size": 1.5, "thickness": 1, "xOffset": -0.8},
          "encoding": {"y": {"field": "o", "type": "quantitative", "scale": {"domain": [0.8957, 0.9662], "nice": false, "zero": false}, "title": null,
            "axis": {"orient": "right", "values": [0.96275, 0.95615, 0.94955, 0.94295, 0.93635, 0.92975, 0.92315, 0.91655, 0.90995, 0.90335, 0.89675], "format": ".5f"}}}
        },
        {
          "data": {"name": "bars"},
          "mark": {"type": "tick", "orient": "horizontal", "color": "#5a84a3", "size": 1.5, "thickness": 1, "xOffset": 0.8},
          "encoding": {"y": {"field": "c", "type": "quantitative", "scale": {"domain": [0.8957, 0.9662], "nice": false, "zero": false}, "title": null,
            "axis": {"orient": "right", "values": [0.96275, 0.95615, 0.94955, 0.94295, 0.93635, 0.92975, 0.92315, 0.91655, 0.90995, 0.90335, 0.89675], "format": ".5f"}}}
        },
        {
          "data": {"name": "ma"},
          "mark": {"type": "line", "color": "#ff4a4a", "strokeWidth": 1, "interpolate": "monotone"}
        },
        {
          "data": {"name": "trend"},
          "mark": {"type": "line", "color": "#3a3a3a", "strokeWidth": 1},
          "encoding": {"detail": {"field": "id"}}
        },
        {
          "data": {"name": "dashed"},
          "mark": {"type": "line", "color": "#707070", "strokeWidth": 1, "strokeDash": [3, 3]}
        },
        {
          "data": {"name": "conn"},
          "mark": {"type": "line", "color": "#4848c0", "strokeWidth": 1},
          "encoding": {"detail": {"field": "id"}}
        },
        {
          "data": {"name": "labels"},
          "mark": {"type": "rect", "width": 32, "height": 9, "fill": "#f2f2ff", "stroke": "#4848c0", "strokeWidth": 1}
        },
        {
          "data": {"name": "labels"},
          "mark": {"type": "text", "fontSize": 7.5, "font": "Liberation Sans", "color": "#3535b0", "align": "center", "baseline": "middle"},
          "encoding": {"text": {"field": "t"}}
        },
        {
          "data": {"values": [{"i": 2.7, "p": 0.9209, "t": "80"}]},
          "mark": {"type": "rect", "width": 11, "height": 9, "fill": "#f2f2ff", "stroke": "#4848c0", "strokeWidth": 1}
        },
        {
          "data": {"values": [{"i": 2.7, "p": 0.9209, "t": "80"}]},
          "mark": {"type": "text", "fontSize": 7.5, "font": "Liberation Sans", "color": "#3535b0", "align": "center", "baseline": "middle"},
          "encoding": {"text": {"field": "t"}}
        },
        {
          "data": {"name": "fibotext"},
          "mark": {"type": "text", "fontSize": 7, "font": "Liberation Sans", "color": "#6a8080", "align": "right", "baseline": "bottom", "dy": -1},
          "encoding": {"text": {"field": "t"}}
        },
        {
          "data": {"values": [{"i": 386.9, "p": 0.9383, "t": "0.93830"}]},
          "mark": {"type": "rect", "width": 33, "height": 9, "fill": "#000000"}
        },
        {
          "data": {"values": [{"i": 386.9, "p": 0.9383, "t": "0.93830"}]},
          "mark": {"type": "text", "fontSize": 7.2, "font": "Liberation Sans", "color": "#ffffff", "align": "center", "baseline": "middle"},
          "encoding": {"text": {"field": "t"}}
        },
        {
          "data": {"values": [{"i": 386.9, "p": 0.9394, "t": "0.93940"}]},
          "mark": {"type": "rect", "width": 33, "height": 9, "fill": "#2f4f4f"}
        },
        {
          "data": {"values": [{"i": 386.9, "p": 0.9394, "t": "0.93940"}]},
          "mark": {"type": "text", "fontSize": 7.2, "font": "Liberation Sans", "color": "#ffffff", "align": "center", "baseline": "middle"},
          "encoding": {"text": {"field": "t"}}
        }
      ]
    },
    {
      "width": 564,
      "height": 76,
      "title": {"text": "MACD(12,26,9) 0.002322 0.002809", "anchor": "start", "orient": "top", "offset": -9, "dx": 3, "fontSize": 7.5, "fontWeight": "normal", "color": "#222222", "font": "Liberation Sans"},
      "encoding": {
        "x": {"field": "i", "type": "quantitative", "scale": {"domain": [-1, 375], "nice": false, "zero": false}, "axis": null}
      },
      "layer": [
        {
          "data": {"values": [{"i": -1, "v": 0}, {"i": 375, "v": 0}]},
          "mark": {"type": "line", "color": "#a8a8a8", "strokeWidth": 1, "strokeDash": [3, 3]},
          "encoding": {
            "y": {"field": "v", "type": "quantitative", "scale": {"domain": [-0.007174, 0.004801], "nice": false, "zero": false}, "title": null,
              "axis": {"orient": "right", "values": [0.004801, 0, -0.007174], "labelFlush": true, "labelFontSize": 6.8, "labelFontWeight": {"condition": {"test": "datum.value == 0", "value": "bold"}, "value": "normal"}, "labelExpr": "datum.value == 0 ? '0.00' : format(datum.value, '.6f')"}}
          }
        },
        {
          "data": {"name": "macd"},
          "mark": {"type": "line", "color": "#bdbdbd", "strokeWidth": 1, "interpolate": "monotone"},
          "encoding": {"y": {"field": "s", "type": "quantitative", "scale": {"domain": [-0.007174, 0.004801], "nice": false, "zero": false}, "title": null,
            "axis": {"orient": "right", "values": [0.004801, 0, -0.007174], "labelFlush": true, "labelFontSize": 6.8, "labelFontWeight": {"condition": {"test": "datum.value == 0", "value": "bold"}, "value": "normal"}, "labelExpr": "datum.value == 0 ? '0.00' : format(datum.value, '.6f')"}}}
        },
        {
          "data": {"name": "macd"},
          "mark": {"type": "line", "color": "#0a0a8c", "strokeWidth": 2.2, "interpolate": "monotone"},
          "encoding": {"y": {"field": "m", "type": "quantitative", "scale": {"domain": [-0.007174, 0.004801], "nice": false, "zero": false}, "title": null,
            "axis": {"orient": "right", "values": [0.004801, 0, -0.007174], "labelFlush": true, "labelFontSize": 6.8, "labelFontWeight": {"condition": {"test": "datum.value == 0", "value": "bold"}, "value": "normal"}, "labelExpr": "datum.value == 0 ? '0.00' : format(datum.value, '.6f')"}}}
        }
      ]
    },
    {
      "width": 564,
      "height": 88,
      "title": {"text": "RSI(14) 59.0419", "anchor": "start", "orient": "top", "offset": -9, "dx": 3, "fontSize": 7.5, "fontWeight": "normal", "color": "#222222", "font": "Liberation Sans"},
      "encoding": {
        "x": {"field": "i", "type": "quantitative", "scale": {"domain": [-1, 375], "nice": false, "zero": false}, "title": null,
          "axis": {"orient": "bottom", "values": [0, 32, 64, 96, 128, 160, 192, 224, 256, 288, 320, 352], "labelAlign": "left", "labelPadding": 2, "tickSize": 3,
            "labelExpr": "['26 Mar 2025','9 May 2025','24 Jun 2025','7 Aug 2025','22 Sep 2025','5 Nov 2025','19 Dec 2025','5 Feb 2026','23 Mar 2026','6 May 2026','19 Jun 2026','4 Aug 2026'][round(datum.value / 32)]"}}
      },
      "layer": [
        {
          "data": {"values": [{"i": -1, "v": 70, "g": "a"}, {"i": 375, "v": 70, "g": "a"}, {"i": -1, "v": 30, "g": "b"}, {"i": 375, "v": 30, "g": "b"}]},
          "mark": {"type": "line", "color": "#b0b0b0", "strokeWidth": 1, "strokeDash": [3, 3]},
          "encoding": {
            "detail": {"field": "g"},
            "y": {"field": "v", "type": "quantitative", "scale": {"domain": [-5, 106], "nice": false, "zero": false}, "title": null,
              "axis": {"orient": "right", "values": [100, 70, 30, 0], "format": "d"}}
          }
        },
        {
          "data": {"name": "rsi"},
          "mark": {"type": "line", "color": "#3c9cf5", "strokeWidth": 1},
          "encoding": {"y": {"field": "r", "type": "quantitative", "scale": {"domain": [-5, 106], "nice": false, "zero": false}, "title": null,
            "axis": {"orient": "right", "values": [100, 70, 30, 0], "format": "d"}}}
        }
      ]
    }
  ],
  "config": {
    "view": {"stroke": "#777777", "strokeWidth": 1},
    "axis": {"labelFont": "Liberation Sans", "labelFontSize": 7.2, "labelColor": "#222222", "tickColor": "#555555", "tickSize": 2, "labelPadding": 0.5, "domain": false, "grid": false}
  }
}
